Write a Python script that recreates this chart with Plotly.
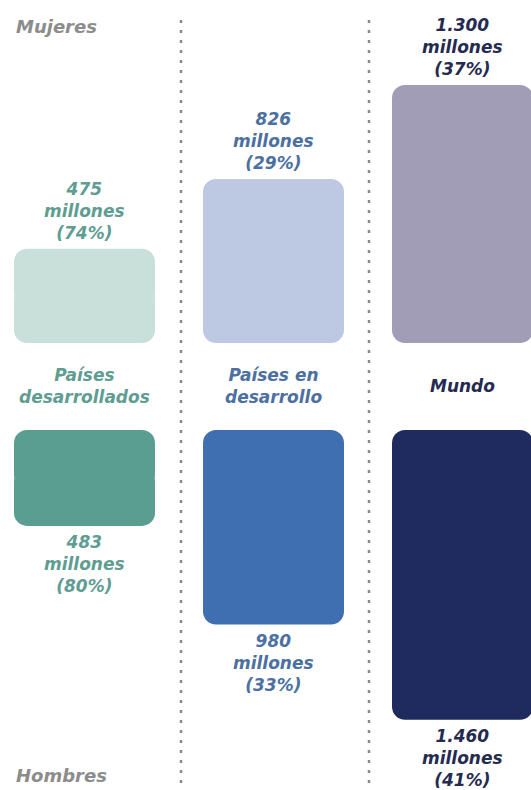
import plotly.graph_objects as go

# ---- data ----
categories = ["Países<br>desarrollados", "Países en<br>desarrollo", "Mundo"]
mujeres = [475, 826, 1300]          # millones
hombres = [483, 980, 1460]          # millones
mujeres_pct = ["74%", "29%", "37%"]
hombres_pct = ["80%", "33%", "41%"]
mujeres_txt = ["475", "826", "1.300"]
hombres_txt = ["483", "980", "1.460"]

# ---- styles ----
col_upper = ["#c9dfda", "#bdc8e3", "#a19db6"]
col_lower = ["#5a9e91", "#3f6fb0", "#1f2a5e"]
col_text = ["#5f9d92", "#4d70a2", "#252b50"]
grey = "#8c8c8c"
FONT = "DejaVu Sans"

W, H = 531, 790
k = 0.1985                 # pixels per million
upper_base_px = 343        # baseline of upper bars (from top)
lower_base_px = 430        # baseline of lower bars (from top)

x = list(range(len(categories)))
spacing = 189.0
x0 = 84.5
xr = [-x0 / spacing, (W - x0) / spacing]
bw = 141 / spacing

fig = go.Figure()

# full rounded rectangles: two overlapping halves each rounded at its far end
def add_rounded(vals, colors, yaxis):
    fig.add_trace(go.Bar(x=x, y=[0.6 * v for v in vals], base=[0.4 * v for v in vals],
                         width=bw, marker=dict(color=colors, line=dict(width=0)),
                         yaxis=yaxis, hoverinfo="skip", showlegend=False))
    fig.add_trace(go.Bar(x=x, y=[-0.6 * v for v in vals], base=[0.6 * v for v in vals],
                         width=bw, marker=dict(color=colors, line=dict(width=0)),
                         yaxis=yaxis, hoverinfo="skip", showlegend=False))

add_rounded(mujeres, col_upper, "y")
add_rounded(hombres, col_lower, "y2")

ann = []
for i in x:
    ann.append(dict(x=i, y=mujeres[i], xref="x", yref="y", yanchor="bottom", yshift=4,
                    text=f"{mujeres_txt[i]}<br>millones<br>({mujeres_pct[i]})",
                    showarrow=False,
                    font=dict(family=FONT, size=17, color=col_text[i], weight="bold", style="italic")))
    ann.append(dict(x=i, y=hombres[i], xref="x", yref="y2", yanchor="top", yshift=-4,
                    text=f"{hombres_txt[i]}<br>millones<br>({hombres_pct[i]})",
                    showarrow=False,
                    font=dict(family=FONT, size=17, color=col_text[i], weight="bold", style="italic")))
    ann.append(dict(x=i, y=1 - (upper_base_px + lower_base_px) / 2 / H, xref="x", yref="paper",
                    yanchor="middle", text=categories[i], showarrow=False,
                    font=dict(family=FONT, size=17, color=col_text[i], weight="bold", style="italic")))

ann.append(dict(x=14 / W, y=1 - 14 / H, xref="paper", yref="paper", xanchor="left", yanchor="top",
                text="Mujeres", showarrow=False,
                font=dict(family=FONT, size=18, color=grey, weight="bold", style="italic")))
ann.append(dict(x=14 / W, y=1 - 788 / H, xref="paper", yref="paper", xanchor="left", yanchor="bottom",
                text="Hombres", showarrow=False,
                font=dict(family=FONT, size=18, color=grey, weight="bold", style="italic")))

shapes = []
for px in (181, 369):
    shapes.append(dict(type="line", xref="paper", yref="paper", x0=px / W, x1=px / W,
                       y0=1 - 20 / H, y1=0, layer="below",
                       line=dict(color="#8a8a8a", width=2.5, dash="3px,7px")))

fig.update_layout(
    width=W, height=H,
    margin=dict(l=0, r=0, t=0, b=0),
    paper_bgcolor="white", plot_bgcolor="white",
    barmode="overlay", barcornerradius=13,
    showlegend=False,
    xaxis=dict(range=xr, visible=False, fixedrange=True),
    yaxis=dict(domain=[1 - upper_base_px / H, 1], range=[0, upper_base_px / k], visible=False),
    yaxis2=dict(domain=[0, 1 - lower_base_px / H], range=[(H - lower_base_px) / k, 0], visible=False),
    annotations=ann, shapes=shapes,
)

fig.write_html("out.html")
